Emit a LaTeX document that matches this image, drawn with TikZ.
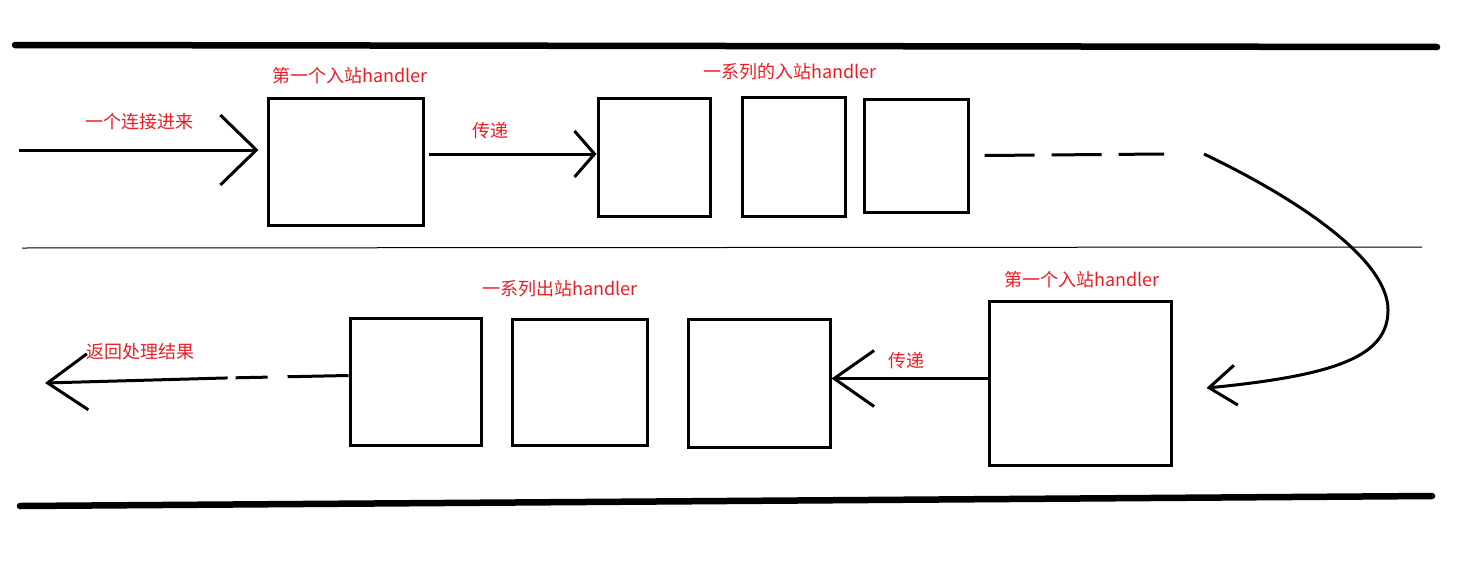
\documentclass[tikz,border=0pt]{standalone}
\usepackage{fontspec}
\newfontfamily\cjk{Noto Sans CJK SC}
\usepackage{tikz}
\usetikzlibrary{arrows.meta}
\usepackage{xcolor}
\definecolor{labred}{RGB}{237, 28, 36}

\begin{document}
\begin{tikzpicture}[x=1pt, y=-1pt,
    hbox/.style 2 args={draw, line width=3pt, inner sep=0pt, minimum width=#1, minimum height=#2},
    lbl/.style={text=labred, inner sep=0pt, font=\cjk\fontsize{18}{20}\selectfont},
    conn/.style={line width=3pt},
    rail/.style={line width=6.5pt, line cap=round}]
  \useasboundingbox (0,0) rectangle (1482,570);

  % Rails and divider
  \draw[rail] (15,45) -- (1437,47);
  \draw[rail] (20,506) -- (1432,496);
  \draw[line width=1pt] (22,248) -- (1422,247);

  % Inbound handlers
  \node[hbox={155pt}{127pt}] (b1) at (345.5,161.5) {};
  \node[hbox={112pt}{118pt}] (b2) at (654,157) {};
  \node[hbox={103pt}{119pt}] (b3) at (793.5,156.5) {};
  \node[hbox={104pt}{113pt}] (b4) at (916,155.5) {};

  % Outbound side
  \node[hbox={182pt}{164pt}] (b5) at (1080,383) {};
  \node[hbox={142pt}{128pt}] (b6) at (759,383) {};
  \node[hbox={135pt}{126pt}] (b7) at (579.5,382) {};
  \node[hbox={131pt}{127pt}] (b8) at (415.5,381.5) {};

  % Labels
  \node[lbl] (l1) at (139,122) {一个连接进来};
  \node[lbl] (l2) at (350,76) {第一个入站handler};
  \node[lbl] (l3) at (490,131) {传递};
  \node[lbl] (l4) at (790,72) {一系列的入站handler};
  \node[lbl] (l5) at (1082,280) {第一个入站handler};
  \node[lbl] (l6) at (560,289) {一系列出站handler};
  \node[lbl] (l7) at (906,361) {传递};
  \node[lbl] (l8) at (140,352) {返回处理结果};

  % Incoming connection
  \coordinate (in) at (19,150);
  \draw[conn, -{Straight Barb[length=36pt, width=70pt]}, shorten >=8pt] (in) -- (in -| b1.west);

  % Pass along the inbound chain
  \draw[conn, -{Straight Barb[length=20pt, width=46pt]}, shorten <=4pt] ([yshift=7.5pt]b1.east) -- ([yshift=3pt]b2.west);
  \coordinate (dend) at (1164,154);
  \draw[conn, dash pattern=on 50pt off 17pt] ([xshift=15pt]b4.east) -- (dend);

  % Turn back to the outbound side
  \coordinate (c0) at (1204,154);
  \draw[conn, -{Straight Barb[length=27pt, width=40pt]}] (c0) .. controls (1300,200) and (1388,260) .. (1388,310)
    .. controls (1388,355) and (1340,375) .. ([xshift=34pt, yshift=-5pt]b5.east);

  % Outbound chain
  \draw[conn, -{Straight Barb[length=40pt, width=56pt]}] ([yshift=4.5pt]b5.west) -- ([yshift=4.5pt]b6.east);
  \coordinate (r1) at (225,378);
  \coordinate (out) at (45,383);
  \draw[conn, dash pattern=on 61pt off 20pt on 32pt off 8pt] ([yshift=6pt]b8.west) -- (r1);
  \draw[conn, -{Straight Barb[length=40pt, width=56pt]}] (r1) -- (out);
\end{tikzpicture}
\end{document}
